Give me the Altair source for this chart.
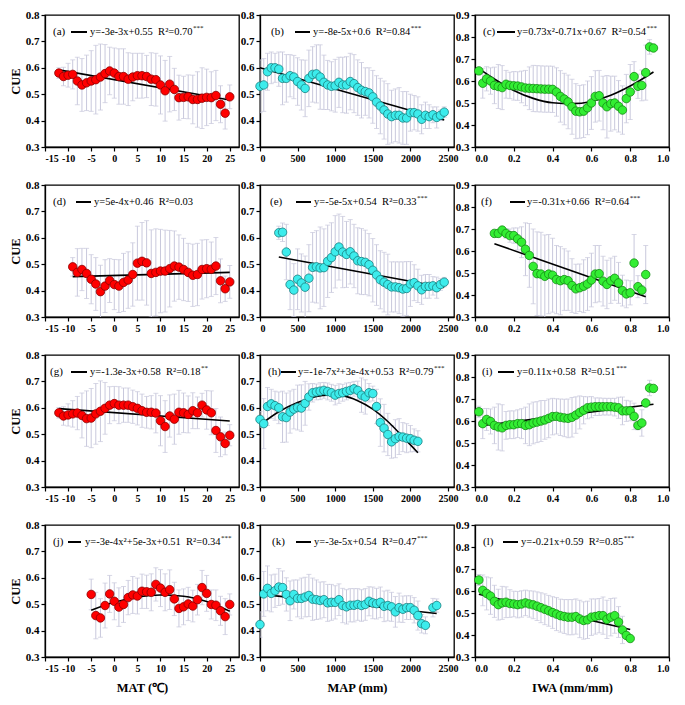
import altair as alt
import pandas as pd

SERIF = "Liberation Serif"
EB = "#c8c8dc"

MAT_TICKS = [-15, -10, -5, 0, 5, 10, 15, 20, 25]
MAP_TICKS = [0, 500, 1000, 1500, 2000, 2500]
IWA_TICKS = [0.0, 0.2, 0.4, 0.6, 0.8, 1.0]
CUE8 = [0.3, 0.4, 0.5, 0.6, 0.7, 0.8]
CUE9 = [0.3, 0.4, 0.5, 0.6, 0.7, 0.8, 0.9]
X_TITLES = ["MAT (\u2103)", "MAP (mm)", "IWA (mm/mm)"]

# ---- (a) MAT ----
A_X = list(range(-12, 26))
A_Y = [0.58, 0.567, 0.572, 0.575, 0.55, 0.535, 0.543, 0.55, 0.555, 0.565,
       0.578, 0.588, 0.58, 0.567, 0.567, 0.557, 0.565, 0.57, 0.57, 0.567,
       0.557, 0.555, 0.535, 0.513, 0.538, 0.518, 0.487, 0.488, 0.49, 0.48,
       0.48, 0.485, 0.488, 0.487, 0.495, 0.462, 0.428, 0.49]
A_E = [0.02, 0.035, 0.045, 0.055, 0.09, 0.1, 0.105, 0.115, 0.13, 0.125,
       0.11, 0.09, 0.095, 0.105, 0.105, 0.1, 0.09, 0.085, 0.085, 0.08,
       0.1, 0.1, 0.11, 0.115, 0.105, 0.08, 0.085, 0.08, 0.083, 0.092,
       0.105, 0.115, 0.107, 0.098, 0.095, 0.07, 0.06, 0.045]
A_FX = [-12, 25]
A_FY = [0.592, 0.478]

# ---- (b) MAP ----
B_X = list(range(0, 2500, 50))
B_Y = [0.53, 0.535, 0.585, 0.6, 0.6, 0.595, 0.56, 0.56, 0.57, 0.565,
       0.548, 0.535, 0.522, 0.56, 0.575, 0.577, 0.565, 0.545, 0.535, 0.53,
       0.532, 0.545, 0.535, 0.535, 0.548, 0.54, 0.525, 0.515, 0.51, 0.505,
       0.49, 0.47, 0.455, 0.44, 0.425, 0.415, 0.42, 0.42, 0.41, 0.41,
       0.43, 0.43, 0.425, 0.405, 0.42, 0.415, 0.422, 0.412, 0.42, 0.432]
B_E = [0.1, 0.1, 0.07, 0.06, 0.055, 0.065, 0.1, 0.09, 0.08, 0.082,
       0.09, 0.095, 0.107, 0.107, 0.105, 0.11, 0.122, 0.103, 0.093, 0.093,
       0.1, 0.095, 0.105, 0.107, 0.107, 0.11, 0.105, 0.105, 0.09, 0.095,
       0.1, 0.1, 0.105, 0.11, 0.115, 0.1, 0.1, 0.105, 0.1, 0.1,
       0.07, 0.065, 0.065, 0.055, 0.05, 0.045, 0.03, 0.04, 0.02, 0.02]
B_FX = [0, 2450]
B_FY = [0.6, 0.402]

# ---- (c) IWA ----
C_X = [round(0.02 * i, 2) for i in range(1, 47)]
C_Y = [0.646, 0.59, 0.61, 0.6, 0.58, 0.575, 0.57, 0.585, 0.58, 0.578,
       0.577, 0.573, 0.568, 0.567, 0.566, 0.565, 0.564, 0.563, 0.563, 0.562,
       0.55, 0.53, 0.518, 0.505, 0.483, 0.463, 0.46, 0.463, 0.478, 0.5,
       0.53, 0.533, 0.5, 0.483, 0.497, 0.5, 0.485, 0.468, 0.52, 0.55,
       0.62, 0.576, 0.58, 0.638, 0.755, 0.75]
C_E = [0.015, 0.068, 0.055, 0.06, 0.083, 0.1, 0.1, 0.063, 0.06, 0.065,
       0.065, 0.072, 0.08, 0.097, 0.105, 0.105, 0.105, 0.105, 0.105, 0.105,
       0.11, 0.117, 0.117, 0.122, 0.125, 0.125, 0.12, 0.12, 0.122, 0.12,
       0.117, 0.115, 0.122, 0.142, 0.125, 0.122, 0.117, 0.11, 0.11, 0.125,
       0.068, 0.055, 0.07, 0.125, 0.033, 0.012]
C_FX = [0.02, 0.1, 0.2, 0.3, 0.4, 0.5, 0.6, 0.7, 0.8, 0.92]
C_FY = [0.656, 0.609, 0.557, 0.521, 0.501, 0.497, 0.507, 0.535, 0.577, 0.641]

# ---- (d) MAT ----
D_X = list(range(-9, 26))
D_Y = [0.49, 0.469, 0.48, 0.465, 0.443, 0.425, 0.396, 0.417, 0.438, 0.423,
       0.417, 0.431, 0.44, 0.461, 0.504, 0.511, 0.505, 0.465, 0.469, 0.474,
       0.474, 0.483, 0.493, 0.489, 0.48, 0.469, 0.458, 0.461, 0.48, 0.483,
       0.481, 0.493, 0.437, 0.407, 0.433]
D_E = [0.035, 0.09, 0.08, 0.095, 0.093, 0.1, 0.1, 0.1, 0.083, 0.095,
       0.1, 0.11, 0.107, 0.12, 0.14, 0.147, 0.16, 0.165, 0.165, 0.158,
       0.155, 0.145, 0.133, 0.122, 0.118, 0.11, 0.118, 0.118, 0.112, 0.11,
       0.103, 0.108, 0.083, 0.048, 0.062]
D_FX = [-9, 25]
D_FY = [0.453, 0.469]

# ---- (e) MAP ----
E_X = list(range(250, 2500, 50))
E_Y = [0.619, 0.621, 0.546, 0.423, 0.402, 0.443, 0.429, 0.413, 0.447, 0.488,
       0.49, 0.486, 0.487, 0.511, 0.525, 0.547, 0.565, 0.546, 0.537, 0.547,
       0.531, 0.513, 0.51, 0.507, 0.498, 0.477, 0.459, 0.441, 0.432, 0.423,
       0.414, 0.414, 0.411, 0.406, 0.408, 0.425, 0.43, 0.418, 0.403, 0.416,
       0.416, 0.418, 0.411, 0.423, 0.432]
E_E = [0.025, 0.035, 0.105, 0.095, 0.1, 0.115, 0.11, 0.118, 0.127, 0.132,
       0.137, 0.155, 0.147, 0.137, 0.132, 0.137, 0.125, 0.135, 0.125, 0.122,
       0.12, 0.125, 0.125, 0.122, 0.118, 0.12, 0.115, 0.11, 0.113, 0.115,
       0.095, 0.095, 0.098, 0.103, 0.102, 0.085, 0.068, 0.063, 0.055, 0.045,
       0.045, 0.035, 0.04, 0.022, 0.018]
E_FX = [250, 2450]
E_FY = [0.527, 0.412]

# ---- (f) IWA ----
F_X = [round(0.10 + 0.02 * i, 2) for i in range(40)]
F_Y = [0.68, 0.68, 0.695, 0.68, 0.67, 0.67, 0.655, 0.64, 0.608, 0.58,
       0.53, 0.497, 0.495, 0.485, 0.495, 0.49, 0.47, 0.465, 0.47, 0.465,
       0.443, 0.428, 0.433, 0.44, 0.45, 0.468, 0.495, 0.497, 0.463, 0.448,
       0.465, 0.476, 0.455, 0.42, 0.405, 0.41, 0.545, 0.438, 0.422, 0.493]
F_E = [0.01, 0.012, 0.01, 0.022, 0.03, 0.035, 0.05, 0.07, 0.12, 0.145,
       0.17, 0.19, 0.19, 0.188, 0.18, 0.168, 0.155, 0.155, 0.14, 0.135,
       0.122, 0.112, 0.108, 0.12, 0.12, 0.122, 0.13, 0.128, 0.113, 0.11,
       0.103, 0.1, 0.093, 0.07, 0.063, 0.055, 0.13, 0.05, 0.02, 0.132]
F_FX = [0.10, 0.88]
F_FY = [0.633, 0.392]

# ---- (g) MAT ----
G_X = list(range(-12, 26))
G_Y = [0.581, 0.569, 0.573, 0.577, 0.58, 0.571, 0.559, 0.561, 0.577, 0.587,
       0.598, 0.61, 0.616, 0.61, 0.61, 0.61, 0.604, 0.598, 0.589, 0.583,
       0.583, 0.58, 0.551, 0.529, 0.569, 0.557, 0.583, 0.581, 0.575, 0.589,
       0.581, 0.61, 0.592, 0.581, 0.514, 0.49, 0.465, 0.496]
G_E = [0.02, 0.035, 0.042, 0.05, 0.063, 0.085, 0.105, 0.112, 0.115, 0.115,
       0.098, 0.07, 0.065, 0.07, 0.065, 0.065, 0.063, 0.063, 0.063, 0.06,
       0.063, 0.075, 0.095, 0.098, 0.08, 0.095, 0.083, 0.075, 0.07, 0.068,
       0.06, 0.045, 0.073, 0.083, 0.083, 0.075, 0.043, 0.04]
G_FX = [-12, 25]
G_FY = [0.597, 0.55]

# ---- (h) MAP ----
H_X = list(range(0, 2150, 50))
H_Y = [0.556, 0.54, 0.605, 0.615, 0.608, 0.6, 0.566, 0.563, 0.584, 0.595,
       0.601, 0.599, 0.617, 0.641, 0.657, 0.66, 0.663, 0.666, 0.662, 0.657,
       0.648, 0.654, 0.657, 0.662, 0.666, 0.672, 0.666, 0.648, 0.641, 0.657,
       0.654, 0.605, 0.544, 0.523, 0.499, 0.471, 0.483, 0.491, 0.489, 0.485,
       0.483, 0.477, 0.473]
H_E = [0.03, 0.095, 0.072, 0.055, 0.055, 0.06, 0.097, 0.093, 0.08, 0.075,
       0.085, 0.088, 0.083, 0.05, 0.035, 0.03, 0.032, 0.03, 0.032, 0.032,
       0.037, 0.037, 0.032, 0.032, 0.03, 0.028, 0.035, 0.065, 0.065, 0.035,
       0.028, 0.065, 0.09, 0.09, 0.08, 0.062, 0.072, 0.068, 0.055, 0.055,
       0.05, 0.043, 0.04]
H_FX = [0, 250, 500, 750, 900, 1100, 1300, 1500, 1700, 1900, 2100]
H_FY = [0.535, 0.585, 0.62, 0.643, 0.648, 0.645, 0.627, 0.595, 0.548, 0.49, 0.43]

# ---- (i) IWA ----
I_X = [round(0.02 * i, 2) for i in range(1, 47)]
I_Y = [0.642, 0.588, 0.607, 0.598, 0.58, 0.573, 0.569, 0.58, 0.583, 0.583,
       0.588, 0.588, 0.58, 0.583, 0.591, 0.595, 0.6, 0.605, 0.612, 0.62,
       0.621, 0.617, 0.614, 0.612, 0.617, 0.627, 0.639, 0.649, 0.66, 0.663,
       0.665, 0.665, 0.665, 0.665, 0.665, 0.663, 0.66, 0.646, 0.646, 0.646,
       0.621, 0.58, 0.591, 0.682, 0.75, 0.748]
I_E = [0.025, 0.068, 0.05, 0.057, 0.083, 0.105, 0.105, 0.063, 0.063, 0.063,
       0.063, 0.068, 0.083, 0.095, 0.095, 0.093, 0.093, 0.088, 0.088, 0.083,
       0.08, 0.083, 0.085, 0.088, 0.09, 0.083, 0.075, 0.062, 0.05, 0.048,
       0.04, 0.04, 0.038, 0.038, 0.038, 0.04, 0.048, 0.063, 0.048, 0.045,
       0.06, 0.02, 0.06, 0.017, 0.035, 0.013]
I_FX = [0.02, 0.92]
I_FY = [0.577, 0.676]

# ---- (j) MAT ----
J_X = list(range(-5, 26))
J_Y = [0.537, 0.457, 0.448, 0.495, 0.539, 0.511, 0.489, 0.499, 0.525, 0.535,
       0.531, 0.549, 0.547, 0.545, 0.575, 0.561, 0.545, 0.555, 0.52, 0.484,
       0.49, 0.501, 0.493, 0.517, 0.563, 0.541, 0.499, 0.496, 0.475, 0.453,
       0.499]
J_E = [0.058, 0.088, 0.073, 0.085, 0.07, 0.07, 0.073, 0.068, 0.065, 0.07,
       0.068, 0.065, 0.063, 0.07, 0.063, 0.07, 0.07, 0.075, 0.063, 0.07,
       0.068, 0.063, 0.06, 0.058, 0.065, 0.068, 0.055, 0.058, 0.055, 0.068,
       0.04]
J_FX = [-5, 0, 5, 10, 15, 20, 25]
J_FY = [0.477, 0.507, 0.527, 0.535, 0.53, 0.51, 0.473]

# ---- (k) MAP ----
K_X = list(range(0, 2250, 50)) + [2300, 2350]
K_Y = [0.423, 0.539, 0.56, 0.541, 0.551, 0.565, 0.563, 0.537, 0.513, 0.537,
       0.522, 0.522, 0.527, 0.533, 0.519, 0.517, 0.514, 0.517, 0.505, 0.507,
       0.507, 0.517, 0.495, 0.49, 0.496, 0.496, 0.499, 0.495, 0.499, 0.511,
       0.505, 0.502, 0.507, 0.492, 0.495, 0.49, 0.471, 0.487, 0.481, 0.487,
       0.487, 0.477, 0.457, 0.426, 0.42, 0.487, 0.495]
K_E = [0.048, 0.085, 0.085, 0.07, 0.063, 0.07, 0.063, 0.063, 0.075, 0.055,
       0.07, 0.077, 0.075, 0.08, 0.08, 0.075, 0.07, 0.068, 0.07, 0.068,
       0.063, 0.06, 0.065, 0.065, 0.063, 0.063, 0.06, 0.06, 0.06, 0.055,
       0.06, 0.058, 0.058, 0.058, 0.058, 0.055, 0.058, 0.055, 0.05, 0.045,
       0.045, 0.048, 0.055, 0.035, 0.032, 0.035, 0.025]
K_FX = [0, 2350]
K_FY = [0.538, 0.465]

# ---- (l) IWA ----
L_X = [round(0.02 * i, 2) for i in range(1, 41)]
L_Y = [0.65, 0.603, 0.589, 0.577, 0.553, 0.538, 0.546, 0.549, 0.543, 0.541,
       0.538, 0.541, 0.546, 0.541, 0.537, 0.531, 0.524, 0.517, 0.51, 0.502,
       0.495, 0.488, 0.484, 0.481, 0.481, 0.484, 0.473, 0.466, 0.469, 0.481,
       0.484, 0.488, 0.488, 0.471, 0.481, 0.488, 0.459, 0.423, 0.398, 0.384]
L_E = [0.025, 0.07, 0.075, 0.083, 0.073, 0.07, 0.075, 0.07, 0.063, 0.058,
       0.06, 0.06, 0.058, 0.06, 0.063, 0.065, 0.068, 0.07, 0.07, 0.072,
       0.075, 0.075, 0.077, 0.08, 0.08, 0.08, 0.085, 0.085, 0.085, 0.083,
       0.08, 0.078, 0.085, 0.087, 0.085, 0.08, 0.07, 0.062, 0.01, 0.005]
L_FX = [0.02, 0.80]
L_FY = [0.585, 0.425]

LABELS = ["(a)", "(b)", "(c)", "(d)", "(e)", "(f)", "(g)", "(h)", "(i)", "(j)", "(k)", "(l)"]
EQS = ["y=-3e-3x+0.55", "y=-8e-5x+0.6", "y=0.73x\u00b2-0.71x+0.67", "y=5e-4x+0.46",
       "y=-5e-5x+0.54", "y=-0.31x+0.66", "y=-1.3e-3x+0.58", "y=-1e-7x\u00b2+3e-4x+0.53",
       "y=0.11x+0.58", "y=-3e-4x\u00b2+5e-3x+0.51", "y=-3e-5x+0.54", "y=-0.21x+0.59"]
R2 = ["0.70", "0.84", "0.54", "0.03", "0.33", "0.64", "0.18", "0.79", "0.51", "0.34", "0.47", "0.85"]
STARS = ["***", "***", "***", "", "***", "***", "**", "***", "***", "***", "***", "***"]

# annotation placement (label x, line x1, line x2, text x) in pixels from the left of each panel
ANN = [(8, 26, 42, 45), (11, 35, 50, 53), (8, 22, 40, 42), (8, 31, 46, 49),
       (10, 36, 51, 54), (6, 35, 50, 52), (5, 26, 42, 45), (8, 21, 36, 38),
       (7, 23, 39, 42), (8, 23, 36, 40), (12, 36, 51, 54), (8, 28, 43, 46)]

DATA = [(A_X, A_Y, A_E, A_FX, A_FY), (B_X, B_Y, B_E, B_FX, B_FY), (C_X, C_Y, C_E, C_FX, C_FY),
        (D_X, D_Y, D_E, D_FX, D_FY), (E_X, E_Y, E_E, E_FX, E_FY), (F_X, F_Y, F_E, F_FX, F_FY),
        (G_X, G_Y, G_E, G_FX, G_FY), (H_X, H_Y, H_E, H_FX, H_FY), (I_X, I_Y, I_E, I_FX, I_FY),
        (J_X, J_Y, J_E, J_FX, J_FY), (K_X, K_Y, K_E, K_FX, K_FY), (L_X, L_Y, L_E, L_FX, L_FY)]

FILLS = ["#ff0000", "#3cecec", "#33ee33"]
STROKES = ["#8a0000", "#1a7f7f", "#158a15"]

W, H = 194, 132
FS = 10.5

TNR = {' ': 250, '\u00a0': 250, '(': 333, ')': 333, '*': 500, '+': 564, '-': 333,
       '.': 250, '=': 564, 'R': 667, 'e': 444, 'x': 500, 'y': 500, '\u00b2': 300}


def text_width(s, fs):
    return sum(TNR.get(c, 500) for c in s) * fs / 1000.0


def one():
    return alt.Chart(pd.DataFrame({"k": [0]}))


def panel(i):
    row, col = divmod(i, 3)
    xs_, ys_, es_, fx, fy = DATA[i]
    df = pd.DataFrame([{"x": a, "y": b, "lo": b - e, "hi": b + e} for a, b, e in zip(xs_, ys_, es_)])
    fdf = pd.DataFrame({"x": fx, "y": fy})

    if col == 0:
        xdom, xt, xfmt = [-15, 27], MAT_TICKS, "d"
    elif col == 1:
        xdom, xt, xfmt = [0, 2580], MAP_TICKS, "d"
    else:
        xdom, xt, xfmt = [0, 1], IWA_TICKS, ".1f"
    ydom, yt = ([0.3, 0.9], CUE9) if col == 2 else ([0.3, 0.8], CUE8)

    xscale = alt.Scale(domain=xdom, nice=False, zero=False)
    yscale = alt.Scale(domain=ydom, nice=False, zero=False)
    xaxis = alt.Axis(values=xt, format=xfmt, labelExpr="replace(datum.label, '\u2212', '-')",
                     labelFontSize=10, title=X_TITLES[col] if row == 3 else None)
    yaxis = alt.Axis(values=yt, format=".1f", title="CUE" if col == 0 else None)

    X = alt.X("x:Q", scale=xscale, axis=xaxis)

    err = alt.Chart(df).mark_errorbar(ticks=True, size=5, thickness=1, color=EB, clip=True).encode(
        x=X, y=alt.Y("lo:Q", scale=yscale, axis=yaxis), y2="hi:Q")
    interp = "monotone" if len(fx) > 2 else "linear"
    fit = alt.Chart(fdf).mark_line(color="black", strokeWidth=1.6, interpolate=interp).encode(
        x=X, y=alt.Y("y:Q", scale=yscale, axis=yaxis))
    pts = alt.Chart(df).mark_circle(size=72, color=FILLS[col], opacity=1, stroke=STROKES[col],
                                    strokeWidth=0.8).encode(
        x=X, y=alt.Y("y:Q", scale=yscale, axis=yaxis))

    lx, l1, l2, tx = ANN[i]
    ty = 17
    eq = EQS[i] + "\u00a0\u00a0R\u00b2=" + R2[i]
    lab = one().mark_text(align="left", baseline="middle", font=SERIF, fontSize=11, color="black").encode(
        x=alt.value(lx), y=alt.value(ty), text=alt.value(LABELS[i]))
    seg = one().mark_rule(color="black", strokeWidth=2).encode(
        x=alt.value(l1), x2=alt.value(l2), y=alt.value(ty))
    eqt = one().mark_text(align="left", baseline="middle", font=SERIF, fontSize=FS, color="black").encode(
        x=alt.value(tx), y=alt.value(ty), text=alt.value(eq))
    layers = [err, fit, pts, lab, seg, eqt]
    if STARS[i]:
        sx = tx + text_width(eq, FS) + 0.5
        st = one().mark_text(align="left", baseline="middle", font=SERIF, fontSize=7, color="black").encode(
            x=alt.value(sx), y=alt.value(ty - 4), text=alt.value(STARS[i]))
        layers.append(st)
    return alt.layer(*layers).properties(width=W, height=H)


chart = alt.concat(*[panel(i) for i in range(12)], columns=3,
                   spacing={"row": 38, "column": 21}, bounds="flush").properties(
    padding={"left": 0, "top": 0, "right": 0, "bottom": 0}
).configure_view(stroke="black", strokeWidth=1.3).configure_axis(
    domainColor="black", domainWidth=1.3, tickColor="black", tickWidth=1.2, tickSize=4,
    labelFont=SERIF, labelFontSize=11, labelFontWeight="bold", labelColor="black", labelPadding=2,
    titleFont=SERIF, titleFontSize=12.5, titleFontWeight="bold", titleColor="black", grid=False
).configure_axisX(titlePadding=8).configure_axisY(titlePadding=3)

chart.save("out.html", embed_options={"renderer": "svg", "actions": False})
